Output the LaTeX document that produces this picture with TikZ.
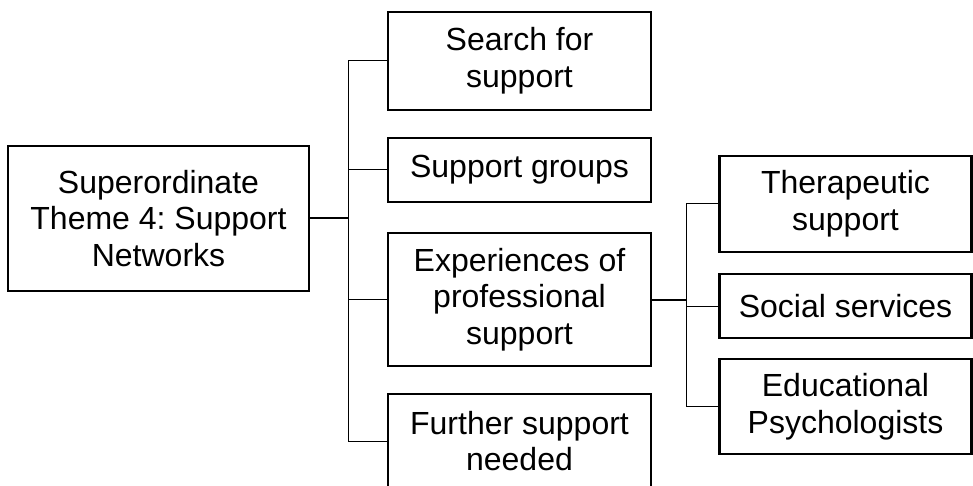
\documentclass[tikz,border=0pt]{standalone}
\usepackage{fontspec}
\setmainfont{Liberation Sans}
\frenchspacing
\usetikzlibrary{positioning}
\tikzstyle{theme}=[draw,line width=2.2pt,align=center,inner sep=0pt,font=\fontsize{32}{36.7}\selectfont]
\tikzstyle{mid}=[theme,minimum width=263pt]
\tikzstyle{sub}=[theme,minimum width=252pt]
\tikzstyle{stub}=[line width=2pt]
\tikzstyle{branch}=[line width=1pt]
\newcommand{\drawbranches}[2]{
	\foreach \b in {#2}{
		\draw[branch] (#1) |- (\b.west);
	}
}

\begin{document}
\begin{tikzpicture}[x=1pt,y=-1pt]
\useasboundingbox (0,0) rectangle (973,486);
\node[theme,minimum width=301pt,minimum height=145pt] (0) at (158.5,218.5) {Superordinate\\Theme 4: Support\\Networks};
\node[mid,minimum height=98pt] (1) at (519.5,61) {Search for\\support};
\node[mid,minimum height=64pt] (2) at (519.5,170) {Support groups};
\node[mid,minimum height=133pt] (3) at (519.5,299.5) {Experiences of\\professional\\support};
\node[mid,minimum height=94pt] (4) at (519.5,441) {Further support\\needed};
\node[sub,minimum height=96pt] (5) at (845.5,204) {Therapeutic\\support};
\node[sub,minimum height=64pt] (6) at (845.5,306) {Social services};
\node[sub,minimum height=95pt] (7) at (845.5,406.5) {Educational\\Psychologists};

\draw[stub] (0.east) -- ++(38,0) coordinate (t0);
\draw[stub] (3.east) -- ++(34,0) coordinate (t3);
\drawbranches{t0}{1,2,3,4}
\drawbranches{t3}{5,6,7}
\end{tikzpicture}
\end{document}
